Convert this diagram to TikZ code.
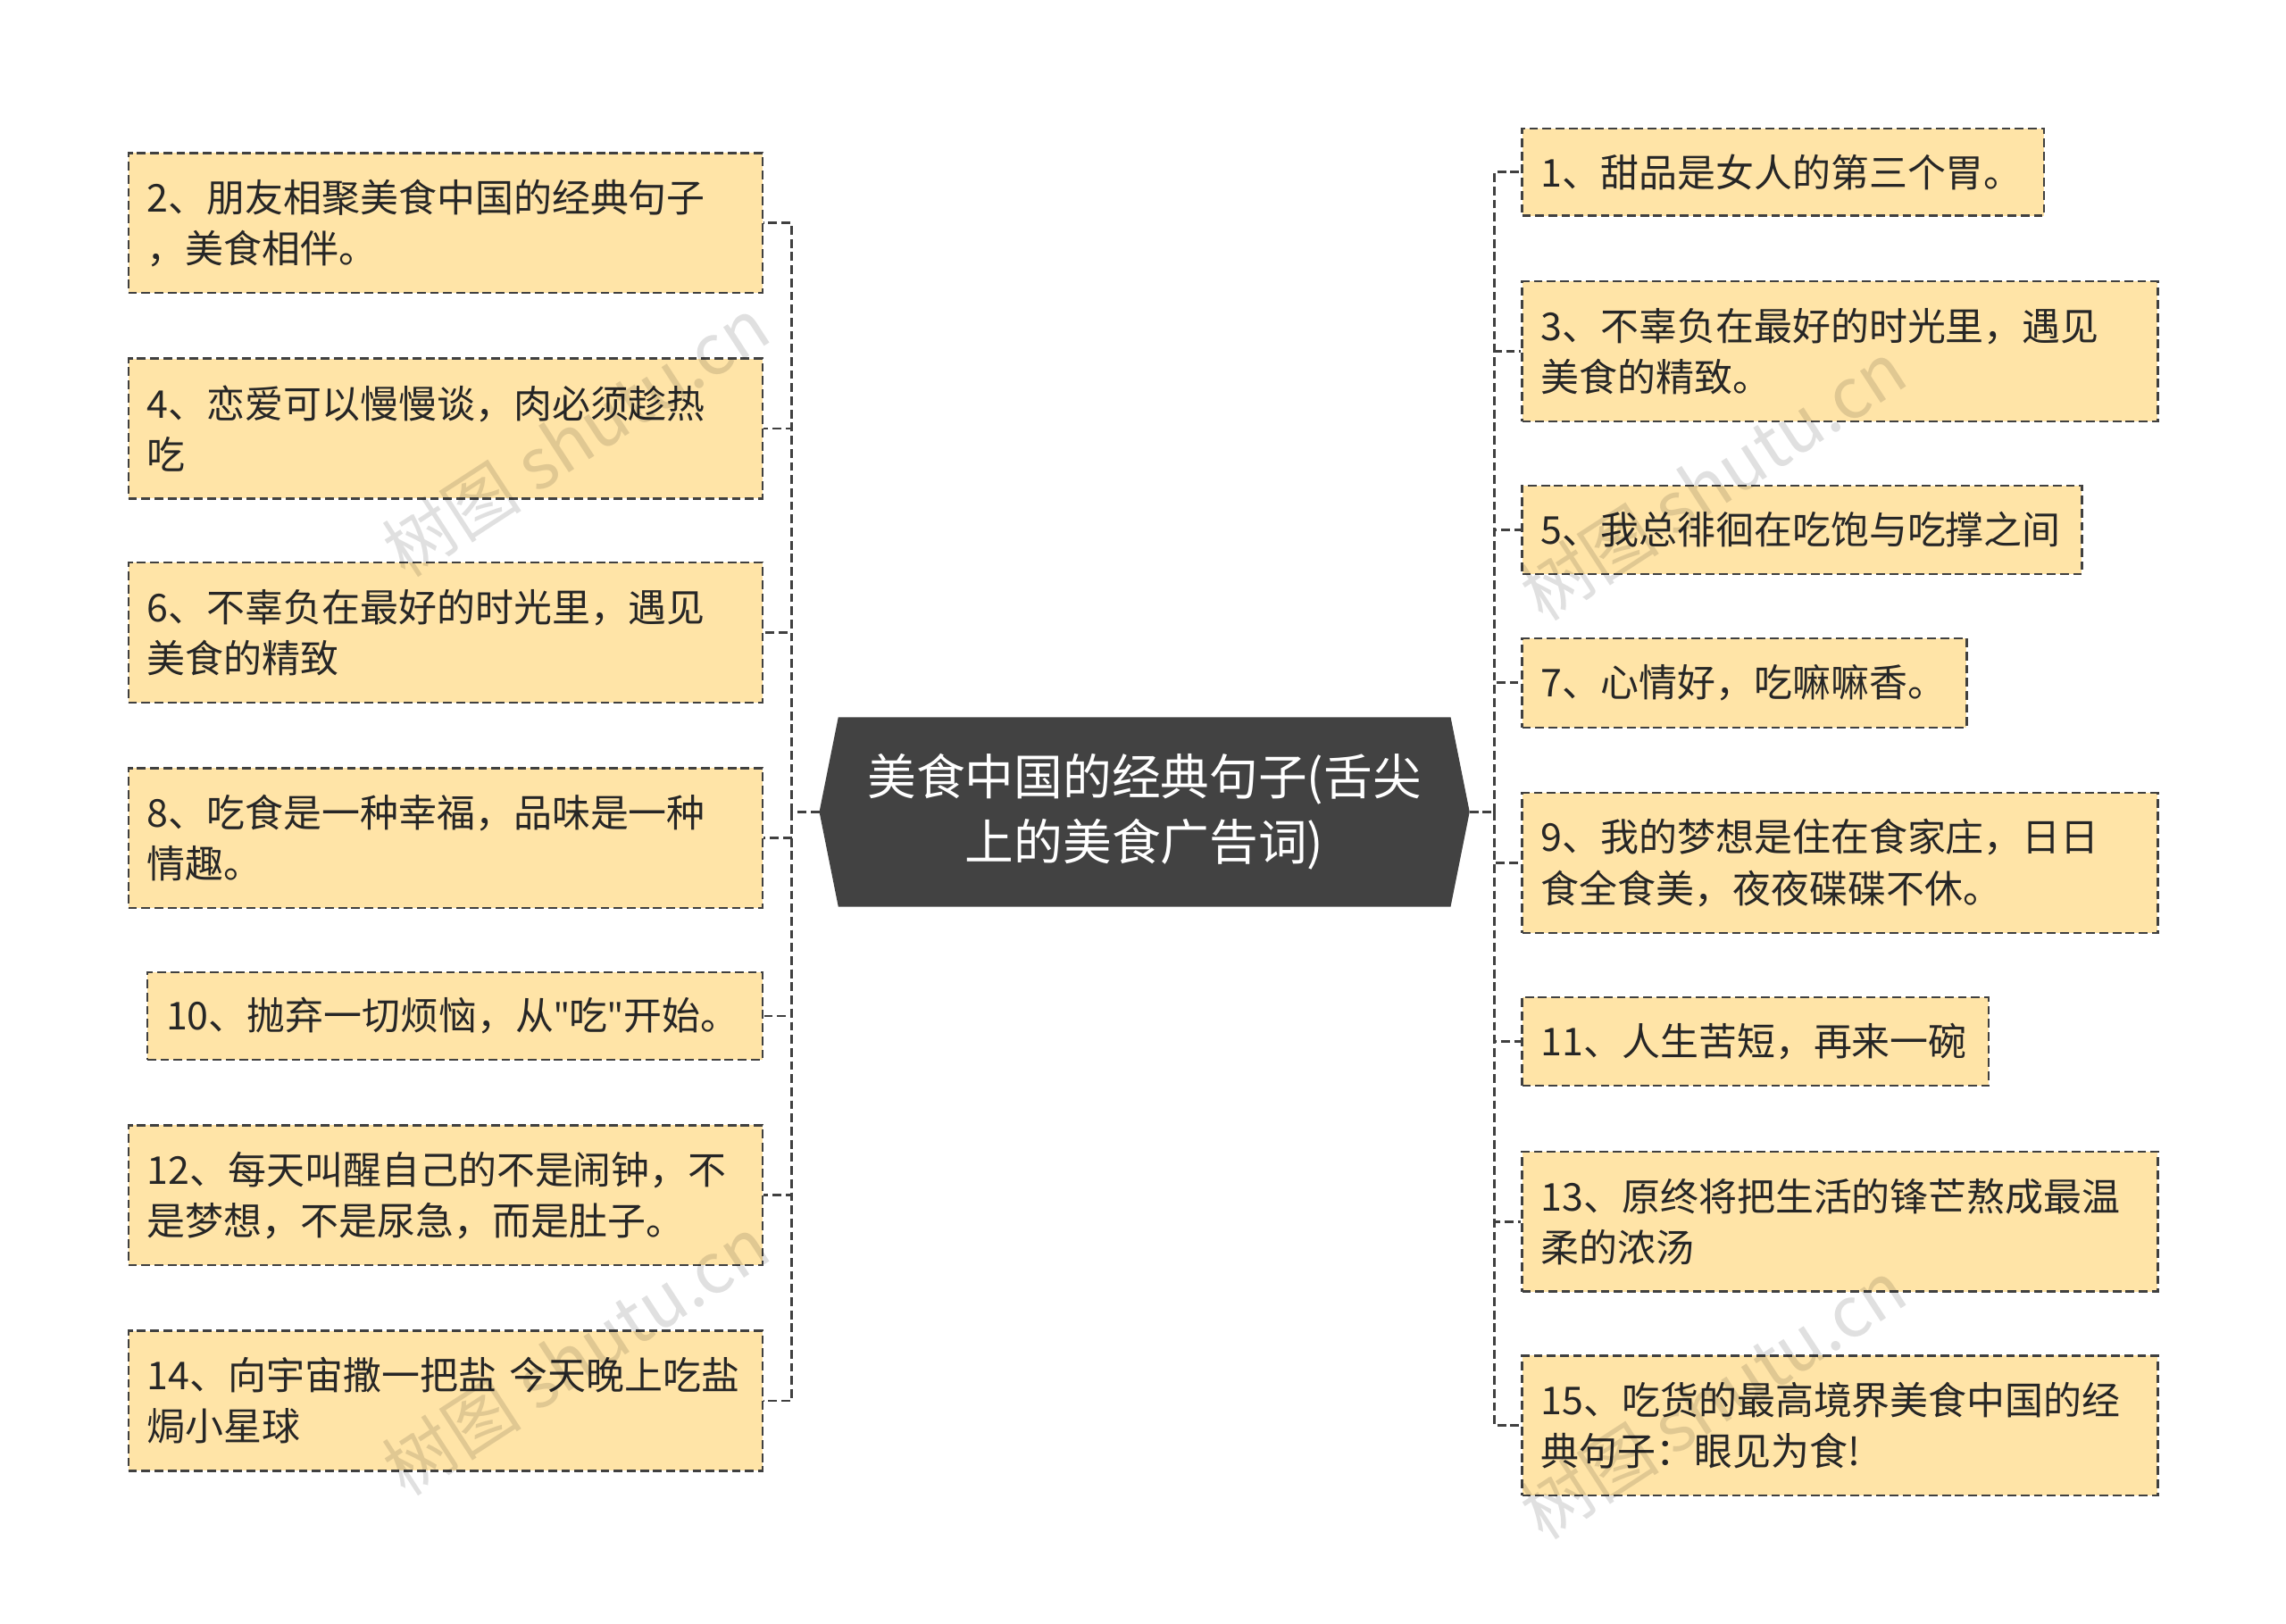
\documentclass[tikz,border=0pt]{standalone}
\usepackage{fontspec}
\setmainfont{Noto Sans CJK SC}
\newfontfamily\latinq{Noto Sans}
\begin{document}
\begin{tikzpicture}[x=1pt,y=-1pt,
  leaf/.style={draw=black!75,dash pattern=on 6pt off 3pt,line width=1.4pt,fill=leafc,inner xsep=13pt,inner ysep=0pt,align=left,font=\fontsize{26.3}{35}\selectfont,text=black!85},
  conn/.style={draw=black!75,dash pattern=on 6pt off 3pt,line width=1.8pt},
  wmark/.style={rotate=33,text=black,opacity=0.12,font=\fontsize{48}{50}\selectfont}]
\definecolor{leafc}{HTML}{FFE4A7}
\useasboundingbox (0,0) rectangle (1568,1114);
\fill[white] (0,0) rectangle (1568,1114);
\fill[fill=black!74] (575,492) -- (995,492) -- (1008,557) -- (995,622) -- (575,622) -- (562,557) -- cycle;
\node[align=center,text=white,font=\fontsize{33.5}{45}\selectfont] (c) at (785,557) {美食中国的经典句子(舌尖\\上的美食广告词)};
\coordinate (cl) at (562,557); \coordinate (cr) at (1008,557);
\newcommand{\lbox}[6]{\node[leaf,minimum width=#3-#2,minimum height=#5-#4,text width=#3-#2-26] (#1) at ({(#2+#3)/2},{(#4+#5)/2}) {#6};}
\lbox{l2}{88}{523}{105}{201}{2、朋友相聚美食中国的经典句子\\，美食相伴。}
\lbox{l4}{88}{523}{246}{342}{4、恋爱可以慢慢谈，肉必须趁热\\吃}
\lbox{l6}{88}{523}{386}{482}{6、不辜负在最好的时光里，遇见\\美食的精致}
\lbox{l8}{88}{523}{527}{623}{8、吃食是一种幸福，品味是一种\\情趣。}
\lbox{l10}{101}{523}{667}{727}{10、抛弃一切烦恼，从{\latinq"}吃{\latinq"}开始。}
\lbox{l12}{88}{523}{772}{868}{12、每天叫醒自己的不是闹钟，不\\是梦想，不是尿急，而是肚子。}
\lbox{l14}{88}{523}{913}{1009}{14、向宇宙撒一把盐 今天晚上吃盐\\焗小星球}
\lbox{r1}{1044}{1402}{88}{148}{1、甜品是女人的第三个胃。}
\lbox{r3}{1044}{1480}{193}{289}{3、不辜负在最好的时光里，遇见\\美食的精致。}
\lbox{r5}{1044}{1428}{333}{394}{5、我总徘徊在吃饱与吃撑之间}
\lbox{r7}{1044}{1349}{438}{499}{7、心情好，吃嘛嘛香。}
\lbox{r9}{1044}{1480}{544}{640}{9、我的梦想是住在食家庄，日日\\食全食美，夜夜碟碟不休。}
\lbox{r11}{1044}{1364}{684}{745}{11、人生苦短，再来一碗}
\lbox{r13}{1044}{1480}{790}{886}{13、原终将把生活的锋芒熬成最温\\柔的浓汤}
\lbox{r15}{1044}{1480}{930}{1026}{15、吃货的最高境界美食中国的经\\典句子：眼见为食!}
\coordinate (lx) at (543,557); \coordinate (rx) at (1025,557);
\draw[conn] (cl) -- (lx);
\draw[conn] (cr) -- (rx);
\foreach \n in {l2,l4,l6,l8,l10,l12,l14}{\draw[conn] (lx) |- (\n.east);}
\foreach \n in {r1,r3,r5,r7,r9,r11,r13,r15}{\draw[conn] (rx) |- (\n.west);}
\node[wmark] (w1) at (395,300) {树图 shutu.cn};
\node[wmark] (w2) at (395,930) {树图 shutu.cn};
\node[wmark] (w3) at (1175,330) {树图 shutu.cn};
\node[wmark] (w4) at (1175,960) {树图 shutu.cn};
\end{tikzpicture}
\end{document}
